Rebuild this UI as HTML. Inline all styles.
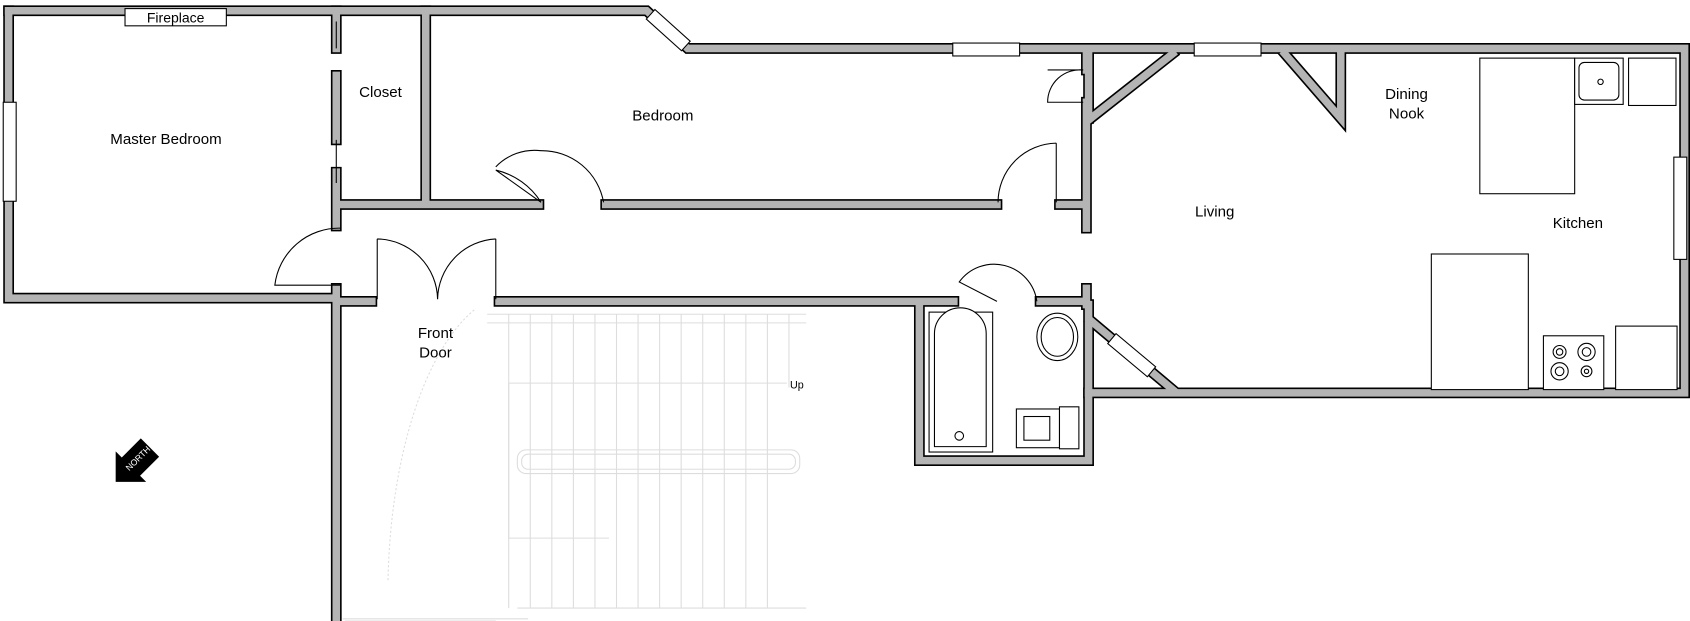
<!DOCTYPE html>
<html><head><style>
html,body{margin:0;padding:0;background:#fff;}
svg{display:block;}
text{font-family:"Liberation Sans",sans-serif;fill:#000;}
</style></head><body>
<svg width="1690" height="621" viewBox="0 0 1568 577" preserveAspectRatio="none" xmlns="http://www.w3.org/2000/svg">
<rect width="1568" height="577" fill="#fff"/>
<!-- stairs (faint) -->
<g stroke="#ddd" fill="none" stroke-width="1">
<path d="M452,292 H748 M452,300 H748"/>
<g>
<path d="M472,292 V565 M492,292 V565 M512,292 V565 M532,292 V565 M552,292 V565 M572,292 V565 M592,292 V565 M612,292 V565 M632,292 V565 M652,292 V565 M672,292 V565 M692,292 V565 M712,292 V565 M732,292 V360"/>
</g>
<path d="M472,356 H730 M472,356 V500 H565"/>
<rect x="480" y="418" width="262" height="22" rx="8"/>
<rect x="484" y="422" width="254" height="14" rx="6"/>
<path d="M318,575 H490 M480,565 H748"/>
<path d="M440,288 A120,280 0 0 0 360,540" stroke-dasharray="2,2"/>
<path d="M320,577 H460"/>
</g>
<text x="733" y="361" font-size="10">Up</text>
<!-- walls -->
<g fill="none" stroke-linecap="square" stroke-linejoin="miter">
<g stroke="#000" stroke-width="10">
<path d="M8,10 H600 L638,45 H1563 V365 H1010 V428 H853 V283"/>
<path d="M8,10 V277 H310"/>
<path d="M312,10 V45 M312,70 V130 M312,160 V210"/>
<path d="M312,268 V575"/>
<path d="M395,10 V188"/>
<path d="M316,190 H500 M562,190 H925 M983,190 H1005"/>
<path d="M316,280 H345 M463,280 H885 M965,280 H1005"/>
<path d="M1008,50 V65 M1008,95 V212 M1008,268 V283"/>
<path d="M1010,283 V365 M1010,50 V110"/>
<path d="M1012,110 L1088,50 M1012,298 L1088,362"/>
<path d="M1192,50 L1244,110 V50"/>
</g>
<g stroke="#b4b4b4" stroke-width="7">
<path d="M8,10 H600 L638,45 H1563 V365 H1010 V428 H853 V283"/>
<path d="M8,10 V277 H310"/>
<path d="M312,10 V45 M312,70 V130 M312,160 V210"/>
<path d="M312,268 V575"/>
<path d="M395,10 V188"/>
<path d="M316,190 H500 M562,190 H925 M983,190 H1005"/>
<path d="M316,280 H345 M463,280 H885 M965,280 H1005"/>
<path d="M1008,50 V65 M1008,95 V212 M1008,268 V283"/>
<path d="M1010,283 V365 M1010,50 V110"/>
<path d="M1012,110 L1088,50 M1012,298 L1088,362"/>
<path d="M1192,50 L1244,110 V50"/>
</g>
</g>
<!-- windows -->
<g fill="#fff" stroke="#000" stroke-width="1">
<rect x="884" y="40" width="62" height="12"/>
<rect x="1108" y="40" width="62" height="12"/>
<rect x="3" y="95" width="12" height="92"/>
<rect x="1553" y="146" width="12" height="95"/>
<rect x="116" y="8" width="94" height="16"/>
<g transform="translate(620,28) rotate(42)"><rect x="-22" y="-6" width="44" height="12"/></g>
<g transform="translate(1050,330) rotate(40)"><rect x="-24" y="-6" width="48" height="12"/></g>
</g>
<text x="163" y="21" font-size="13" text-anchor="middle">Fireplace</text>
<!-- doors -->
<g fill="none" stroke="#000" stroke-width="1">
<path d="M502,188 L460,158 M502,188 A68,68 0 0 0 460,158 M560,188 A58,58 0 0 0 502,140 A50,50 0 0 0 460,155"/>
<path d="M980,188 V133 M980,133 A55,55 0 0 0 926,188"/>
<path d="M1005,65 H972 M1005,95 H972 A30,30 0 0 1 1005,65"/>
<path d="M316,212 A60,60 0 0 0 255,265 H316"/>
<path d="M350,278 V222 M350,222 A57,57 0 0 1 406,278 M460,278 V222 M460,222 A57,57 0 0 0 406,278"/>
<path d="M962,280 A40,40 0 0 0 890,262 L925,280"/>
<path d="M312,20 V45 M312,130 V170"/>
</g>
<!-- bathroom -->
<g fill="#fff" stroke="#000" stroke-width="1">
<rect x="862" y="290" width="59" height="130"/>
<path d="M867,415 V310 A24,24 0 0 1 915,310 V415 Z"/>
<circle cx="890" cy="405" r="4"/>
<ellipse cx="981" cy="313" rx="19" ry="22"/>
<ellipse cx="981" cy="313" rx="15" ry="18"/>
<rect x="943" y="380" width="40" height="36"/>
<rect x="950" y="387" width="24" height="22"/>
<rect x="983" y="378" width="18" height="39"/>
</g>
<!-- kitchen -->
<g fill="#fff" stroke="#000" stroke-width="1">
<rect x="1373" y="54" width="88" height="126"/>
<rect x="1461" y="54" width="45" height="43"/>
<rect x="1465" y="58" width="37" height="35" rx="5"/>
<circle cx="1485" cy="76" r="2.5"/>
<rect x="1511" y="54" width="44" height="44"/>
<rect x="1328" y="236" width="90" height="126"/>
<rect x="1432" y="312" width="56" height="50"/>
<rect x="1499" y="303" width="57" height="59"/>
<circle cx="1447" cy="327" r="6"/><circle cx="1447" cy="327" r="3"/>
<circle cx="1472" cy="327" r="8"/><circle cx="1472" cy="327" r="4"/>
<circle cx="1447" cy="345" r="8"/><circle cx="1447" cy="345" r="4"/>
<circle cx="1472" cy="345" r="5"/><circle cx="1472" cy="345" r="2"/>
</g>
<!-- labels -->
<g font-size="14" text-anchor="middle">
<text x="154" y="134">Master Bedroom</text>
<text x="353" y="90">Closet</text>
<text x="615" y="112">Bedroom</text>
<text x="1127" y="201">Living</text>
<text x="1305" y="92">Dining</text>
<text x="1305" y="110">Nook</text>
<text x="1464" y="212">Kitchen</text>
<text x="404" y="314">Front</text>
<text x="404" y="332">Door</text>
</g>
<!-- north arrow -->
<g transform="translate(125,430) rotate(45)">
<polygon points="-12,-20 12,-20 12,5 20,5 0,25 -20,5 -12,5" fill="#000"/>
<text x="0" y="-3" font-size="8" fill="#fff" text-anchor="middle" transform="rotate(-90 0 -5)" style="fill:#fff">NORTH</text>
</g>
</svg>
</body></html>
